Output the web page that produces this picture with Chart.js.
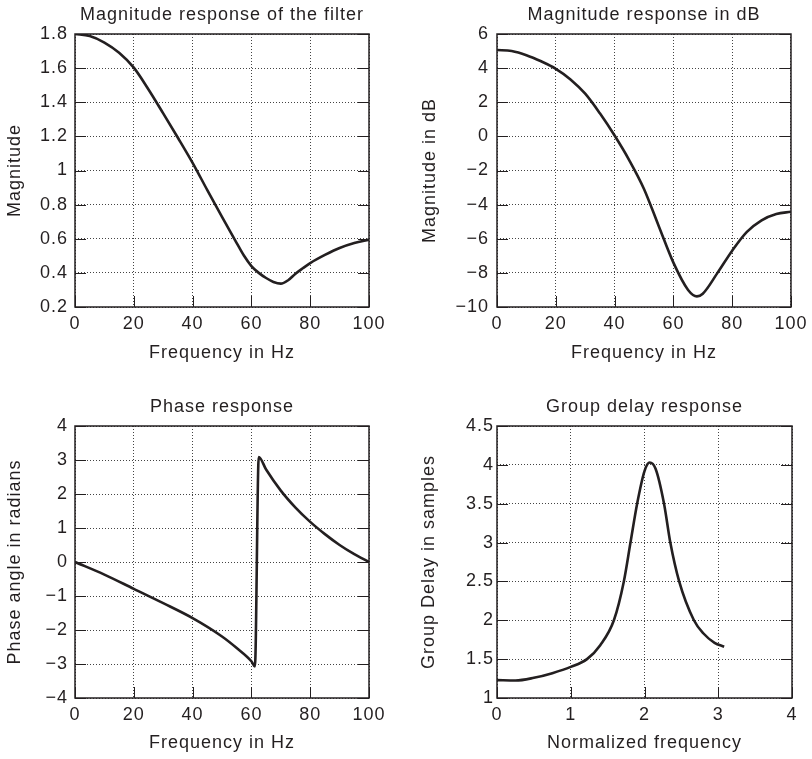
<!DOCTYPE html>
<html>
<head>
<meta charset="utf-8">
<script src="https://cdn.jsdelivr.net/npm/chart.js@4/dist/chart.umd.min.js"></script>
<style>
    html, body { margin: 0; padding: 0; background: #fff; }
    #wrap { position: relative; width: 812px; height: 759px; }
    .panel { position: absolute; }
</style>
</head>
<body>
<div id="wrap">
    <div class="panel" style="left:0;top:0"><canvas id="magChart" width="406" height="380"></canvas></div>
    <div class="panel" style="left:406px;top:0"><canvas id="dbChart" width="406" height="380"></canvas></div>
    <div class="panel" style="left:0;top:380px"><canvas id="phaseChart" width="406" height="379"></canvas></div>
    <div class="panel" style="left:406px;top:380px"><canvas id="gdChart" width="406" height="379"></canvas></div>
</div>
<script>
// Valori
const magFreq = [0, 5, 10, 15, 20, 25, 30, 35, 40, 45, 50, 55, 57.5, 60, 62.5, 65, 67.5, 70, 72.5, 75, 77.5, 80, 85, 90, 95, 100];
const magValues = [1.80, 1.788, 1.75, 1.69, 1.603, 1.475, 1.335, 1.192, 1.045, 0.885, 0.728, 0.575, 0.50, 0.44, 0.40, 0.37, 0.347, 0.337, 0.357, 0.395, 0.427, 0.457, 0.505, 0.546, 0.575, 0.595];

const dbFreq = [0, 5, 10, 15, 20, 25, 30, 35, 40, 45, 50, 55, 60, 65, 68, 70, 75, 80, 85, 90, 95, 100];
const dbValues = [5.06, 5.0, 4.76, 4.40, 3.96, 3.34, 2.5, 1.35, 0.05, -1.4, -3.08, -5.25, -7.4, -9.0, -9.38, -9.22, -8.0, -6.7, -5.6, -4.92, -4.55, -4.42];

const phaseFreq = [0, 10, 20, 30, 40, 50, 55, 60, 61.2, 62.5, 65, 70, 75, 80, 85, 90, 95, 100];
const phaseValues = [0, -0.37, -0.79, -1.21, -1.65, -2.19, -2.53, -2.92, -3.07, 3.09, 2.72, 2.1, 1.6, 1.18, 0.82, 0.5, 0.23, 0];

const gdFreq = [0, 0.25, 0.5, 0.75, 1.0, 1.22, 1.4, 1.585, 1.72, 1.81, 1.9, 2.0, 2.07, 2.15, 2.265, 2.35, 2.47, 2.67, 2.8, 2.95, 3.08];
const gdValues = [1.23, 1.225, 1.26, 1.32, 1.40, 1.5, 1.68, 2.0, 2.5, 3.0, 3.5, 3.92, 4.03, 3.95, 3.5, 3.0, 2.5, 2.0, 1.83, 1.71, 1.66];

// Etichette degli assi
const freqTicks = [0, 20, 40, 60, 80, 100];
const magTicks = [0.2, 0.4, 0.6, 0.8, 1, 1.2, 1.4, 1.6, 1.8];
const dbTicks = [-10, -8, -6, -4, -2, 0, 2, 4, 6];
const phaseTicks = [-4, -3, -2, -1, 0, 1, 2, 3, 4];
const normTicks = [0, 1, 2, 3, 4];
const gdTicks = [1, 1.5, 2, 2.5, 3, 3.5, 4, 4.5];

const FONT = "'Liberation Sans', Arial, Helvetica, sans-serif";
const INK = '#231f20';

// cornice, tacche interne e titolo centrato sull'area del grafico
const framePlugin = {
    id: 'frame',
    beforeDraw(chart) {
        // il testo del riferimento e' piu' largo di Arial
        chart.ctx.letterSpacing = '1px';
    },
    afterDraw(chart, args, opts) {
        const ctx = chart.ctx;
        const a = chart.chartArea;
        const sx = chart.scales.x;
        const sy = chart.scales.y;
        ctx.save();
        ctx.strokeStyle = INK;
        ctx.lineWidth = 1;
        ctx.beginPath();
        sx.ticks.forEach(t => {
            const px = Math.round(sx.getPixelForValue(t.value)) + 0.5;
            ctx.moveTo(px, a.bottom);
            ctx.lineTo(px, a.bottom - 11);
        });
        sy.ticks.forEach(t => {
            const py = Math.round(sy.getPixelForValue(t.value)) + 0.5;
            ctx.moveTo(a.left, py);
            ctx.lineTo(a.left + 11, py);
            ctx.moveTo(a.right, py);
            ctx.lineTo(a.right - 11, py);
        });
        ctx.stroke();
        ctx.lineWidth = 1.5;
        ctx.strokeRect(a.left, a.top, a.right - a.left, a.bottom - a.top);
        ctx.fillStyle = INK;
        ctx.font = '18px ' + FONT;
        ctx.textAlign = 'center';
        ctx.textBaseline = 'middle';
        ctx.fillText(opts.text, (a.left + a.right) / 2, opts.y);
        ctx.restore();
    }
};

function makeChart(id, cfg) {
    const ctx = document.getElementById(id).getContext('2d');
    return new Chart(ctx, {
        type: 'line',
        data: {
            datasets: [{
                data: cfg.xs.map((x, i) => ({ x: x, y: cfg.ys[i] })),
                borderColor: INK,
                borderWidth: 2.6,
                pointRadius: 0,
                fill: false,
                cubicInterpolationMode: 'monotone'
            }]
        },
        options: {
            responsive: false,
            devicePixelRatio: 1,
            animation: false,
            layout: {
                padding: { left: 0, top: cfg.top, right: cfg.right, bottom: cfg.bottom }
            },
            plugins: {
                legend: { display: false },
                tooltip: { enabled: false },
                frame: { text: cfg.title, y: cfg.titleY }
            },
            scales: {
                x: {
                    type: 'linear',
                    min: cfg.xTicks[0],
                    max: cfg.xTicks[cfg.xTicks.length - 1],
                    afterBuildTicks: s => { s.ticks = cfg.xTicks.map(v => ({ value: v })); },
                    afterFit: s => { s.height = 60; },
                    grid: { color: '#444', lineWidth: 1, drawTicks: false },
                    border: { display: false, dash: [1, 2] },
                    ticks: {
                        color: INK,
                        font: { family: FONT, size: 18 },
                        padding: 6,
                        maxRotation: 0,
                        callback: v => String(v).replace('-', '\u2212')
                    },
                    title: {
                        display: true,
                        text: cfg.xTitle,
                        color: INK,
                        font: { family: FONT, size: 18 },
                        padding: { top: 0, bottom: cfg.xTitlePad }
                    }
                },
                y: {
                    type: 'linear',
                    min: cfg.yTicks[0],
                    max: cfg.yTicks[cfg.yTicks.length - 1],
                    afterBuildTicks: s => { s.ticks = cfg.yTicks.map(v => ({ value: v })); },
                    afterFit: s => { s.width = cfg.yWidth; },
                    grid: { color: '#444', lineWidth: 1, drawTicks: false },
                    border: { display: false, dash: [1, 2] },
                    ticks: {
                        color: INK,
                        font: { family: FONT, size: 18 },
                        padding: cfg.yTickPad,
                        callback: v => String(v).replace('-', '\u2212')
                    },
                    title: {
                        display: true,
                        text: cfg.yTitle,
                        color: INK,
                        font: { family: FONT, size: 18 },
                        padding: { top: cfg.yTitlePad, bottom: 0 }
                    }
                }
            }
        },
        plugins: [framePlugin]
    });
}

makeChart('magChart', {
    xs: magFreq, ys: magValues, xTicks: freqTicks, yTicks: magTicks,
    title: 'Magnitude response of the filter', titleY: 15,
    xTitle: 'Frequency in Hz', yTitle: 'Magnitude',
    top: 34, right: 37, bottom: 13, yWidth: 75, yTickPad: 7, yTitlePad: 4, xTitlePad: 3
});

makeChart('dbChart', {
    xs: dbFreq, ys: dbValues, xTicks: freqTicks, yTicks: dbTicks,
    title: 'Magnitude response in dB', titleY: 15,
    xTitle: 'Frequency in Hz', yTitle: 'Magnitude in dB',
    top: 34, right: 20, bottom: 13, yWidth: 91, yTickPad: 8, yTitlePad: 13, xTitlePad: 3
});

makeChart('phaseChart', {
    xs: phaseFreq, ys: phaseValues, xTicks: freqTicks, yTicks: phaseTicks,
    title: 'Phase response', titleY: 27,
    xTitle: 'Frequency in Hz', yTitle: 'Phase angle in radians',
    top: 46, right: 37, bottom: 1, yWidth: 75, yTickPad: 7, yTitlePad: 4, xTitlePad: 4
});

makeChart('gdChart', {
    xs: gdFreq, ys: gdValues, xTicks: normTicks, yTicks: gdTicks,
    title: 'Group delay response', titleY: 27,
    xTitle: 'Normalized frequency', yTitle: 'Group Delay in samples',
    top: 46, right: 20, bottom: 1, yWidth: 91, yTickPad: 3, yTitlePad: 12, xTitlePad: 4
});
</script>
</body>
</html>
